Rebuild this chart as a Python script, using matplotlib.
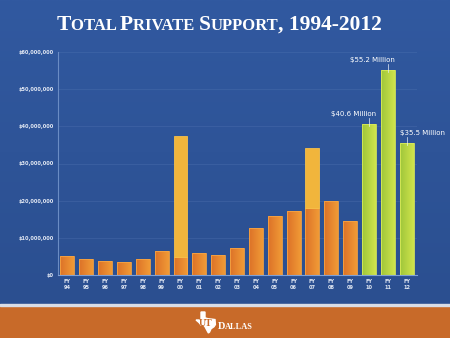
import numpy as np
import matplotlib
matplotlib.use("Agg")
import matplotlib.pyplot as plt
from matplotlib.patches import Polygon, Rectangle
from matplotlib.colors import LinearSegmentedColormap

# Fiscal years and giving (millions of dollars)
years = ['94', '95', '96', '97', '98', '99', '00', '01', '02', '03',
         '04', '05', '06', '07', '08', '09', '10', '11', '12']
base = [5.1, 4.3, 3.8, 3.6, 4.4, 6.4, 4.9, 6.0, 5.3, 7.3,
        12.7, 15.8, 17.1, 18.1, 19.9, 14.5, 40.6, 55.2, 35.5]
extra = [0, 0, 0, 0, 0, 0, 32.5, 0, 0, 0,
         0, 0, 0, 16.0, 0, 0, 0, 0, 0]
callouts = {'10': '$40.6 Million', '11': '$55.2 Million', '12': '$35.5 Million'}
yticks = [0, 10, 20, 30, 40, 50, 60]
ytick_labels = ['$0', '$10,000,000', '$20,000,000', '$30,000,000',
                '$40,000,000', '$50,000,000', '$60,000,000']

W, H = 450, 338
fig = plt.figure(figsize=(W / 100, H / 100), dpi=100)

# background: blue gradient + orange footer
bg = fig.add_axes([0, 0, 1, 1], zorder=-10)
bg.set_axis_off()
blue = LinearSegmentedColormap.from_list('bl', ['#2b4f90', '#3159a0'])
grad = np.linspace(0, 1, 256).reshape(-1, 1)
bg.imshow(grad, cmap=blue, aspect='auto', extent=[0, W, 34, H], origin='lower')
bg.add_patch(Rectangle((0, 0), W, 32.5, color='#c86a29'))
bg.add_patch(Rectangle((0, 32.5), W, 1.5, color='#d9dde6'))
bg.set_xlim(0, W)
bg.set_ylim(0, H)

# crude Texas silhouette for the logo
tx = np.array([(0.25, 1.0), (0.45, 1.0), (0.45, 0.72), (0.6, 0.68), (0.8, 0.66),
               (0.95, 0.64), (0.97, 0.4), (0.9, 0.3), (0.75, 0.2), (0.68, 0.05),
               (0.62, 0.0), (0.55, 0.12), (0.45, 0.3), (0.35, 0.42), (0.25, 0.38),
               (0.15, 0.5), (0.0, 0.62), (0.25, 0.62)])
tx = tx * [20, 21] + [196, 5]
bg.add_patch(Polygon(tx, closed=True, color='white'))
bg.text(206, 12, 'UT', color='#c86a29', fontsize=7, fontweight='bold',
        family='Liberation Serif', ha='center', va='baseline')
bg.text(218, 9, 'D', color='white', fontsize=7.5, fontweight='bold',
        family='Liberation Serif', va='baseline')
bg.text(224.5, 9, 'ALLAS', color='white', fontsize=6, fontweight='bold',
        family='Liberation Serif', va='baseline')

# title in small caps
fig.canvas.draw()
r = fig.canvas.get_renderer()
parts = [('T', 15.5), ('OTAL ', 12), ('P', 15.5), ('RIVATE ', 12), ('S', 15.5),
         ('UPPORT', 12), (', 1994-2012', 15.5)]
texts = []
x = 0
for s, fs in parts:
    t = fig.text(x / W, 1 - 30 / H, s, color='white', fontsize=fs, fontweight='bold',
                 family='Liberation Serif', va='baseline', ha='left')
    w = t.get_window_extent(r).width
    texts.append((t, x))
    x += w
start = 219 - x / 2
for t, x0 in texts:
    t.set_x((start + x0) / W)

# chart
ax = fig.add_axes([58 / W, 1 - 275 / H, (417 - 58) / W, (275 - 52) / H])
ax.set_facecolor('none')
pos = np.arange(len(years))
bw = 0.74

orange = LinearSegmentedColormap.from_list('or', ['#dc7228', '#f19a36'])
green = LinearSegmentedColormap.from_list('gr', ['#9fc63a', '#d0e44c'])
hgrad = np.linspace(0, 1, 64).reshape(1, -1)

for i, yr in enumerate(years):
    is_new = 10 <= int(yr) < 90
    cmap = green if is_new else orange
    edge = '#d9ea5a' if is_new else '#f5a444'
    p = ax.bar(pos[i], base[i], width=bw, color='none', edgecolor=edge,
               linewidth=0.6, zorder=3)[0]
    im = ax.imshow(hgrad, cmap=cmap, aspect='auto', zorder=2,
                   extent=[pos[i] - bw / 2, pos[i] + bw / 2, 0, base[i]])
    im.set_clip_path(p)
    if extra[i] > 0:
        ax.bar(pos[i], extra[i], bottom=base[i], width=bw, color='#f1b53c',
               edgecolor='#f6c04a', linewidth=0.6, zorder=3)

for i, yr in enumerate(years):
    if yr in callouts:
        top = base[i]
        ax.plot([pos[i], pos[i]], [top - 0.6, top + 1.6], color='#e8eef8',
                lw=0.5, zorder=4)
        if yr == '12':
            ax.text(pos[i] - bw / 2, top + 1.8, callouts[yr], color='white',
                    fontsize=5, family='Liberation Sans Narrow', ha='left', va='bottom')
        else:
            ax.text(pos[i] + bw / 2, top + 1.8, callouts[yr], color='white',
                    fontsize=5, family='Liberation Sans Narrow', ha='right', va='bottom')

ax.set_xlim(-0.5, len(years) - 0.45)
ax.set_ylim(0, 60)
ax.set_yticks(yticks)
ax.set_yticklabels(ytick_labels, fontsize=3.6, color='#e3e9f4',
                   family='Liberation Sans Narrow', fontweight='bold')
ax.set_xticks(pos)
ax.set_xticklabels(['FY\n' + y for y in years], fontsize=3.6, color='#e3e9f4',
                   family='Liberation Sans Narrow', fontweight='bold', linespacing=1.1)
ax.tick_params(length=0, pad=3)
ax.grid(axis='y', color='#5577b4', lw=0.5, alpha=0.45, zorder=0)
for s in ['top', 'right']:
    ax.spines[s].set_visible(False)
ax.spines['left'].set_color('#6a8cc4')
ax.spines['bottom'].set_color('#7fa0d6')
ax.spines['left'].set_linewidth(0.8)
ax.spines['bottom'].set_linewidth(0.8)

fig.savefig('out.png', dpi=100)
